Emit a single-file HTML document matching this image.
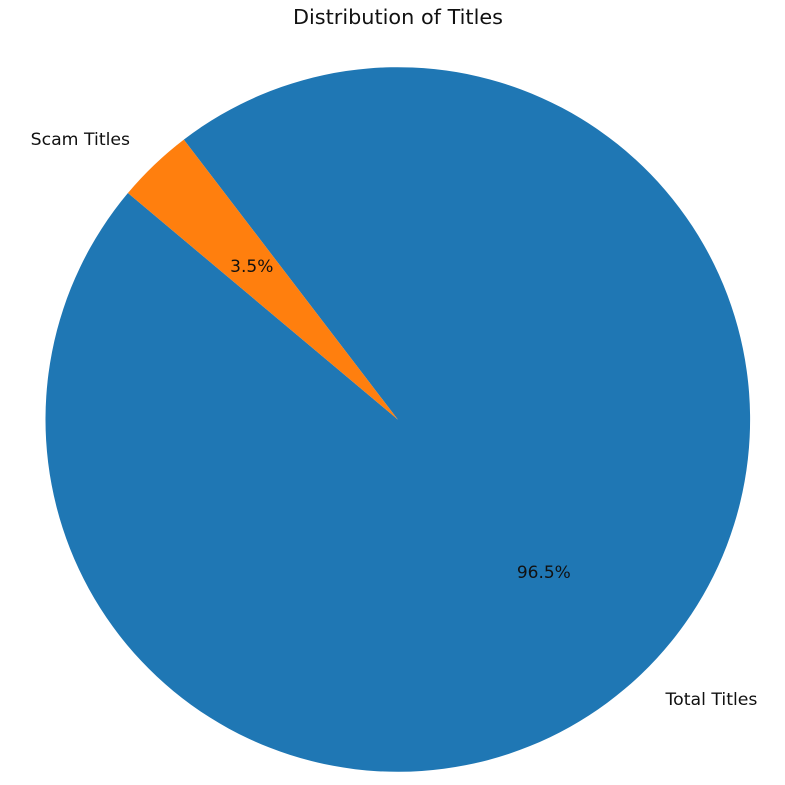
<!DOCTYPE html>
<html>
<head>
<meta charset="utf-8">
<style>
html,body{margin:0;padding:0;background:#fff;width:785px;height:785px;overflow:hidden}
svg{display:block}
text{font-family:"DejaVu Sans","Liberation Sans",sans-serif;fill:#111}
</style>
</head>
<body>
<svg id="chart" width="785" height="785" viewBox="0 0 785 785" xmlns="http://www.w3.org/2000/svg">
<text x="398" y="24" font-size="20.8" text-anchor="middle">Distribution of Titles</text>
</svg>
<script>
const categories = ['Total Titles', 'Scam Titles'];
const seriesValues = [96.5, 3.5];
const sliceColors = ['#1f77b4', '#ff7f0e'];
const sliceNames = ['slice-total-titles', 'slice-scam-titles'];
const labelNames = ['label-total-titles', 'label-scam-titles'];
const percentNames = ['percent-total-titles', 'percent-scam-titles'];
const startAngle = 140;

const svgNS = 'http://www.w3.org/2000/svg';
const svg = document.getElementById('chart');
const cx = 397.8, cy = 419.5, radius = 352.3;
const total = seriesValues.reduce(function (a, b) { return a + b; }, 0);

function angleOf(cumulative) {
  return (startAngle + cumulative / total * 360) * Math.PI / 180;
}
function px(angle, r) { return cx + r * Math.cos(angle); }
function py(angle, r) { return cy - r * Math.sin(angle); }

let cumulative = 0;
seriesValues.forEach(function (value, i) {
  const a0 = angleOf(cumulative);
  const a1 = angleOf(cumulative + value);
  const mid = (a0 + a1) / 2;
  const large = value / total > 0.5 ? 1 : 0;

  const path = document.createElementNS(svgNS, 'path');
  path.setAttribute('d', 'M' + cx + ' ' + cy + ' L' + px(a0, radius) + ' ' + py(a0, radius) +
    ' A' + radius + ' ' + radius + ' 0 ' + large + ' 0 ' + px(a1, radius) + ' ' + py(a1, radius) + ' Z');
  path.setAttribute('fill', sliceColors[i]);
  
  
  svg.appendChild(path);

  const label = document.createElementNS(svgNS, 'text');
  label.setAttribute('x', px(mid, radius * 1.1));
  label.setAttribute('y', py(mid, radius * 1.1) + 5.5);
  label.setAttribute('font-size', '17.3');
  label.setAttribute('text-anchor', Math.cos(mid) >= 0 ? 'start' : 'end');
  
  
  label.textContent = categories[i];
  svg.appendChild(label);

  const pct = document.createElementNS(svgNS, 'text');
  pct.setAttribute('x', px(mid, radius * 0.6));
  pct.setAttribute('y', py(mid, radius * 0.6) + 5.5);
  pct.setAttribute('font-size', '17');
  pct.setAttribute('text-anchor', 'middle');
  
  
  pct.textContent = (value / total * 100).toFixed(1) + '%';
  svg.appendChild(pct);

  cumulative += value;
});
</script>
</body>
</html>
